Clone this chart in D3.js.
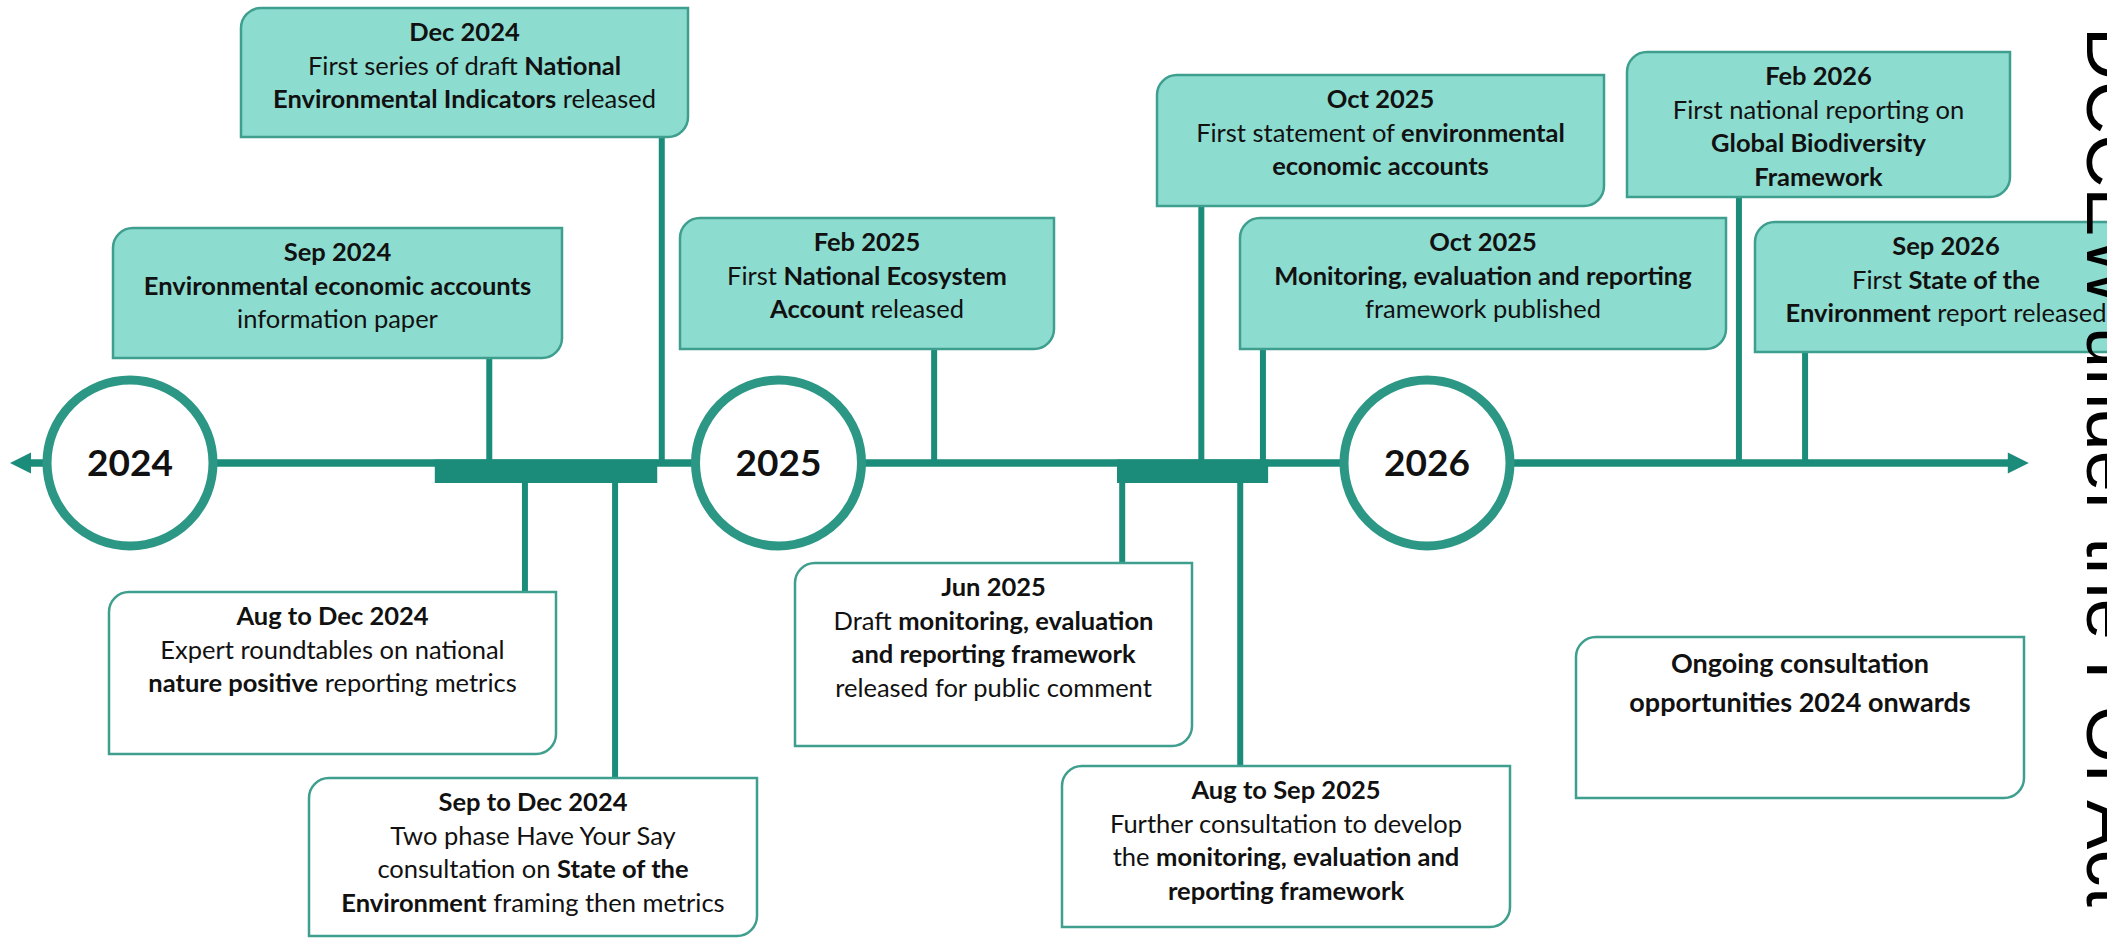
<!DOCTYPE html>
<html>
<head>
<meta charset="utf-8">
<title>Timeline</title>
<style>
body { margin: 0; background: #fff; overflow: hidden; }
svg { display: block; }
.box-text { font-family: Lato, "Open Sans", sans-serif; font-size: 25.5px; fill: #111; }
.year { font-family: Lato, sans-serif; font-size: 37px; font-weight: 700; fill: #111; }
.stamp { font-family: "Liberation Sans", Arial, sans-serif; font-size: 74px; fill: #000; }
</style>
</head>
<body>
<svg width="2107" height="938"></svg>
<script src="https://cdn.jsdelivr.net/npm/d3@7"></script>
<script>

// timeline axis, in years (schematic)
var axisExtent = [2023.815, 2026.928];
var years = [2024, 2025, 2026];

// periods drawn as thick bars under the line
var rangeStart = [2024.470, 2025.522];
var rangeEnd   = [2024.813, 2025.755];

// milestones: where they hit the line, which side, and what they say
var eventAt   = [2024.554, 2024.820, 2025.240, 2025.652, 2025.747, 2026.481, 2026.583,
                 2024.609, 2024.748, 2025.530, 2025.712];
var eventSide = ["top", "top", "top", "top", "top", "top", "top",
                 "bottom", "bottom", "bottom", "bottom"];
var eventText = [
  ["**Sep 2024**", "**Environmental economic accounts**", "information paper"],
  ["**Dec 2024**", "First series of draft **National**", "**Environmental Indicators** released"],
  ["**Feb 2025**", "First **National Ecosystem**", "**Account** released"],
  ["**Oct 2025**", "First statement of **environmental**", "**economic accounts**"],
  ["**Oct 2025**", "**Monitoring, evaluation and reporting**", "framework published"],
  ["**Feb 2026**", "First national reporting on", "**Global Biodiversity**", "**Framework**"],
  ["**Sep 2026**", "First **State of the**", "**Environment** report released"],
  ["**Aug to Dec 2024**", "Expert roundtables on national", "**nature positive** reporting metrics"],
  ["**Sep to Dec 2024**", "Two phase Have Your Say", "consultation on **State of the**", "**Environment** framing then metrics"],
  ["**Jun 2025**", "Draft **monitoring, evaluation**", "**and reporting framework**", "released for public comment"],
  ["**Aug to Sep 2025**", "Further consultation to develop", "the **monitoring, evaluation and**", "**reporting framework**"]
];

var noteText = ["**Ongoing consultation**", "**opportunities 2024 onwards**"];
var stampText = "Released by DCCEW under the FOI Act";

// layout of the callout boxes in px: [left, right, top, bottom]
var boxLayout = [
  [113, 562, 228, 358],
  [241, 688, 8, 137],
  [680, 1054, 218, 349],
  [1157, 1604, 75, 206],
  [1240, 1726, 218, 349],
  [1627, 2010, 52, 197],
  [1755, 2137, 222, 352],
  [109, 556, 592, 754],
  [309, 757, 778, 936],
  [795, 1192, 563, 746],
  [1062, 1510, 766, 927]
];
var noteBox = [1576, 2024, 637, 798];

var lineColor = "#1b8c7a",
    ringColor = "#2b9784",
    boxStroke = "#3f9f8f",
    boxFill = "#8ddcd0";

var svg = d3.select("svg"),
    width = +svg.attr("width"),
    height = +svg.attr("height");

var lineY = 463;

var x = d3.scaleLinear()
    .domain([2024, 2026])
    .range([130, 1427]);

function boxPath(b, r) {
  var x0 = b[0], x1 = b[1], y0 = b[2], y1 = b[3];
  return "M" + x0 + "," + (y0 + r) +
    "A" + r + "," + r + " 0 0 1 " + (x0 + r) + "," + y0 +
    "H" + x1 + "V" + (y1 - r) +
    "A" + r + "," + r + " 0 0 1 " + (x1 - r) + "," + y1 +
    "H" + x0 + "Z";
}

// text with **bold** runs
function richLine(sel, str) {
  str.split("**").forEach(function(part, i) {
    if (!part) return;
    sel.append("tspan")
      .attr("font-weight", i % 2 ? 700 : 400)
      .text(part);
  });
}

// main line + arrow heads
var x0 = x(axisExtent[0]), x1 = x(axisExtent[1]);
svg.append("line")
    .attr("x1", x0 + 18).attr("x2", x1 - 18)
    .attr("y1", lineY).attr("y2", lineY)
    .attr("stroke", lineColor)
    .attr("stroke-width", 7.5);

svg.append("path")
    .attr("d", "M" + x0 + "," + lineY + "l21,-10.5v21z")
    .attr("fill", lineColor);
svg.append("path")
    .attr("d", "M" + x1 + "," + lineY + "l-21,-10.5v21z")
    .attr("fill", lineColor);

// period bars
svg.selectAll("rect.range")
  .data(rangeStart)
  .enter().append("rect")
    .attr("class", "range")
    .attr("x", function(d) { return x(d); })
    .attr("width", function(d, i) { return x(rangeEnd[i]) - x(d); })
    .attr("y", lineY - 3.5)
    .attr("height", 23.5)
    .attr("fill", lineColor);

// connectors
svg.selectAll("line.conn")
  .data(eventAt)
  .enter().append("line")
    .attr("class", "conn")
    .attr("x1", function(d) { return x(d); })
    .attr("x2", function(d) { return x(d); })
    .attr("y1", function(d, i) { return eventSide[i] == "top" ? boxLayout[i][3] : lineY + 18; })
    .attr("y2", function(d, i) { return eventSide[i] == "top" ? lineY : boxLayout[i][2]; })
    .attr("stroke", lineColor)
    .attr("stroke-width", 6);

// year rings
var ring = svg.selectAll("g.year")
  .data(years)
  .enter().append("g")
    .attr("class", "year")
    .attr("transform", function(d) { return "translate(" + x(d) + "," + lineY + ")"; });

ring.append("circle")
    .attr("r", 83)
    .attr("fill", "#fff")
    .attr("stroke", ringColor)
    .attr("stroke-width", 9);

ring.append("text")
    .attr("class", "year")
    .attr("text-anchor", "middle")
    .attr("y", 13)
    .text(function(d) { return d; });

// callout boxes
var box = svg.selectAll("g.box")
  .data(eventText)
  .enter().append("g")
    .attr("class", "box");

box.append("path")
    .attr("d", function(d, i) { return boxPath(boxLayout[i], 20); })
    .attr("fill", function(d, i) { return eventSide[i] == "top" ? boxFill : "#fff"; })
    .attr("stroke", boxStroke)
    .attr("stroke-width", 2.5);

box.each(function(lines, i) {
  var b = boxLayout[i];
  var t = d3.select(this).append("text")
      .attr("class", "box-text")
      .attr("text-anchor", "middle");
  lines.forEach(function(l, j) {
    var row = t.append("tspan")
        .attr("x", (b[0] + b[1]) / 2)
        .attr("y", b[2] + 33 + j * 33.5);
    richLine(row, l);
  });
});

// ongoing consultation note
svg.append("path")
    .attr("d", boxPath(noteBox, 20))
    .attr("fill", "#fff")
    .attr("stroke", boxStroke)
    .attr("stroke-width", 2.5);

var note = svg.append("text")
    .attr("class", "box-text")
    .attr("text-anchor", "middle")
    .style("font-size", "27px");
noteText.forEach(function(l, j) {
  var row = note.append("tspan")
      .attr("x", (noteBox[0] + noteBox[1]) / 2)
      .attr("y", noteBox[2] + 36 + j * 39);
  richLine(row, l);
});

// FOI release stamp down the right edge
svg.append("text")
    .attr("class", "stamp")
    .attr("text-anchor", "end")
    .attr("transform", "translate(2087,907) rotate(90)")
    .text(stampText);

</script>
</body>
</html>
